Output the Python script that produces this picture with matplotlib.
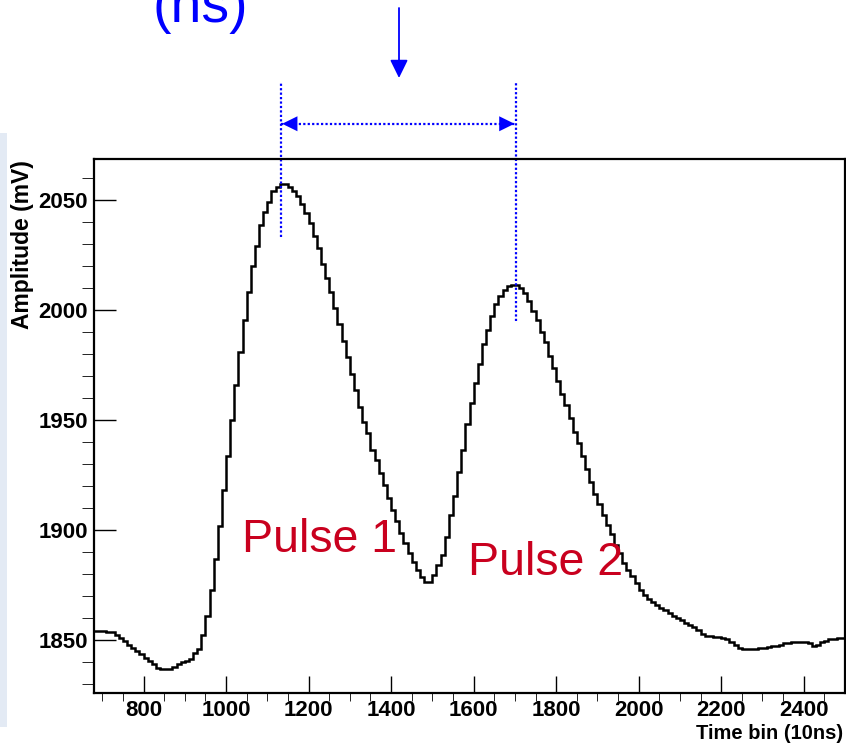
"""Two-pulse waveform, ROOT-style histogram with peak-distance markup."""
import numpy as np
import matplotlib
matplotlib.use("Agg")
import matplotlib.pyplot as plt
from matplotlib import font_manager
from matplotlib.patches import Rectangle, FancyArrowPatch

# %%
# data: one amplitude per 10-unit time bin, 680 .. 2500
bin_start = 680
bin_width = 10
amplitude = [
    1854, 1854, 1854, 1853.5, 1853.5, 1852.5,
    1851, 1849.5, 1848, 1846.5, 1845, 1843.5, 1842, 1840.5, 1839, 1837.5,
    1837, 1837, 1837, 1838, 1839, 1840, 1840.5, 1841.5, 1844, 1846,
    1852.5, 1861, 1873, 1887, 1902, 1918, 1933.5, 1950, 1966, 1981,
    1995.5, 2008, 2020, 2029, 2038.5, 2044.5, 2049, 2054, 2056, 2057,
    2057, 2056, 2054, 2051.5, 2048, 2044, 2039.5, 2033.5, 2028, 2021,
    2014.5, 2008, 2001, 1993.5, 1986, 1978.5, 1971, 1963.5, 1956, 1949,
    1944, 1936.5, 1932, 1926, 1920.5, 1914.5, 1909, 1904, 1898.5, 1894,
    1889.5, 1885.5, 1882, 1878.5, 1876.5, 1876.5, 1879.5, 1884, 1888.5, 1897,
    1907, 1915.5, 1926.5, 1936.5, 1948, 1957.5, 1967, 1975.5, 1984.5, 1991,
    1997, 2002.5, 2006.5, 2009, 2011, 2011.5, 2011.5, 2010, 2007.5, 2004,
    1999.5, 1995.5, 1990, 1985.5, 1979, 1973.5, 1967.5, 1962, 1957, 1951,
    1944.5, 1939.5, 1933.5, 1927.5, 1922, 1916.5, 1912, 1907, 1902.5, 1898,
    1893, 1889.5, 1885, 1882, 1879, 1876, 1873, 1870.5, 1868.5, 1867.5,
    1866, 1864.5, 1863.5, 1862.5, 1861, 1860, 1859, 1858, 1857, 1856,
    1854.5, 1853, 1852, 1852, 1851.5, 1851.5, 1851, 1850.5, 1849, 1848,
    1846.5, 1846, 1846, 1846, 1846, 1846.5, 1846.5, 1847, 1847.5, 1847.5,
    1848, 1848.5, 1848.5, 1849, 1849, 1849, 1849, 1848.5, 1847.5, 1848,
    1849, 1849.5, 1850.5, 1850.5, 1851, 1851,
]
peak_x = [1133, 1702]          # dotted marker positions
peak_line_bottom = [2033, 1995]
pulse_labels = ["Pulse 1", "Pulse 2"]

# %%
# fonts
names = {f.name for f in font_manager.fontManager.ttflist}
narrow = "Liberation Sans Narrow" if "Liberation Sans Narrow" in names else "Liberation Sans"
tick_size = 18.4 if narrow != "Liberation Sans" else 16

W, H = 846, 749
fig = plt.figure(figsize=(W / 100, H / 100), dpi=100)
fig.patches.append(Rectangle((0, 1 - 727 / H), 7 / W, (727 - 133) / H,
                             transform=fig.transFigure, color="#e3eaf4", lw=0))

ax = fig.add_axes([94 / W, 1 - 693 / H, (845 - 94) / W, (693 - 159) / H])
edges = bin_start + bin_width * np.arange(len(amplitude) + 1)
ax.stairs(amplitude, edges, color="black", lw=1.8, baseline=None)

ax.set_xlim(680, 2500)
ax.set_ylim(1826, 2068.5)
ax.set_xticks(np.arange(800, 2401, 200))
ax.set_xticks(np.arange(700, 2500, 50), minor=True)
ax.set_yticks([1850, 1900, 1950, 2000, 2050])
ax.set_yticks(np.arange(1830, 2061, 10), minor=True)
ax.tick_params(direction="in", width=1.0, colors="black")
ax.tick_params(axis="y", which="major", length=15.8, pad=4.3)
ax.tick_params(axis="y", which="minor", length=8.4)
ax.tick_params(axis="x", which="major", length=12, pad=5)
ax.tick_params(axis="x", which="minor", length=6)
ax.tick_params(top=False, right=False)
for lab in ax.get_xticklabels() + ax.get_yticklabels():
    lab.set_fontfamily(narrow)
    lab.set_fontweight("bold")
    lab.set_fontsize(tick_size)
for s in ax.spines.values():
    s.set_linewidth(1.6)

fig.text(22 / W, 1 - 160 / H, "Amplitude (mV)", rotation=90, ha="center", va="top",
         fontfamily="Liberation Sans", fontweight="bold", fontsize=16.5)
fig.text(843 / W, 1 - 739 / H, "Time bin (10ns)", ha="right", va="baseline",
         fontfamily="Liberation Sans", fontweight="bold", fontsize=14.5)

# pulse labels
red = "#c9001e"
fig.text(242 / W, 1 - 552 / H, pulse_labels[0], color=red, fontsize=33.5,
         fontfamily="Liberation Sans", va="baseline")
fig.text(468 / W, 1 - 575 / H, pulse_labels[1], color=red, fontsize=33.5,
         fontfamily="Liberation Sans", va="baseline")

# blue markup above the frame
blue = "#0000ff"
for x0, yb in zip(peak_x, peak_line_bottom):
    ax.plot([x0, x0], [yb, 2103], color=blue, lw=1.6, ls=(0, (1, 1)), clip_on=False)
y_arrow = 2084.5
ax.plot(peak_x, [y_arrow, y_arrow], color=blue, lw=1.6, ls=(0, (1, 1)), clip_on=False)
for tip, tail in [(peak_x[0] + 3, peak_x[0] + 40), (peak_x[1] - 3, peak_x[1] - 40)]:
    ax.annotate("", xy=(tip, y_arrow), xytext=(tail, y_arrow), annotation_clip=False,
                arrowprops=dict(arrowstyle="-|>,head_length=0.55,head_width=0.27",
                                color=blue, lw=0, mutation_scale=20, shrinkA=0, shrinkB=0))
fig.add_artist(FancyArrowPatch(
    (399 / W, 1 - 8 / H), (399 / W, 1 - 78 / H), transform=fig.transFigure,
    arrowstyle="-|>,head_length=0.55,head_width=0.27", mutation_scale=20,
    color=blue, lw=1.3, shrinkA=0, shrinkB=0))
# title text is cut by the top edge, as in the source slide
fig.text(200 / W, 1 - 22 / H, "(ns)", color=blue, fontsize=40, ha="center",
         va="baseline", fontfamily="Liberation Sans")

fig.savefig("out.png", dpi=100)
